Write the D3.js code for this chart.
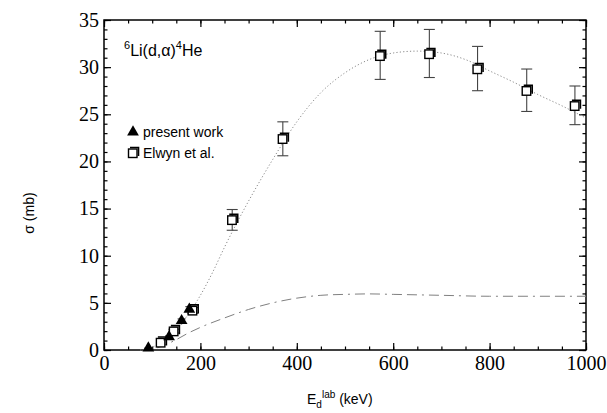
<!DOCTYPE html>
<html>
<head>
<meta charset="utf-8">
<script src="https://cdn.jsdelivr.net/npm/d3@7"></script>
<style>
  body { margin: 0; background: #fff; }
  svg { display: block; }
  .tick text { font-family: "Liberation Serif", "DejaVu Serif", serif; font-size: 20px; fill: #000; }
  .lbl { font-family: "Liberation Sans", Arial, sans-serif; fill: #000; }
</style>
</head>
<body>
<div id="chart"></div>
<script>
// present work (triangles)
var presentE = [92, 135, 161, 177];
var presentS = [0.1, 1.3, 3.0, 4.2];
var presentErr = [0.1, 0.2, 0.3, 0.4];

// Elwyn et al. (open squares) with error bar ends
var elwynE  = [118, 145, 184, 266, 371, 573, 675, 775, 877, 977];
var elwynS  = [0.8, 2.0, 4.2, 13.8, 22.4, 31.2, 31.4, 29.8, 27.5, 25.9];
var elwynLo = [0.7, 1.8, 3.9, 12.7, 20.6, 28.7, 28.9, 27.5, 25.3, 23.9];
var elwynHi = [0.9, 2.2, 4.5, 14.9, 24.2, 33.8, 34.0, 32.2, 29.8, 28.0];

// dotted fit through Elwyn data
var fitE = [75, 100, 125, 150, 175, 200, 225, 250, 300, 350, 400, 450, 500, 550, 600, 650, 700, 750, 800, 850, 900, 950, 1000];
var fitS = [0, 0.3, 1.0, 2.2, 3.8, 5.8, 8.2, 10.9, 15.8, 20.2, 24.2, 27.3, 29.4, 30.8, 31.5, 31.7, 31.5, 30.8, 29.6, 28.4, 27.1, 25.9, 24.6];

// dashed curve
var dashE = [80, 100, 125, 150, 175, 200, 250, 300, 350, 400, 450, 500, 550, 600, 700, 800, 900, 1000];
var dashS = [0, 0.1, 0.5, 1.1, 1.8, 2.4, 3.4, 4.3, 5.0, 5.5, 5.8, 5.9, 5.95, 5.9, 5.8, 5.7, 5.7, 5.7];

var xTicks = [0, 200, 400, 600, 800, 1000];
var yTicks = [0, 5, 10, 15, 20, 25, 30, 35];

var width = 607, height = 413;
var margin = { left: 104, right: 21, top: 20, bottom: 63 };
var iw = width - margin.left - margin.right, ih = height - margin.top - margin.bottom;

var svg = d3.select("#chart").append("svg")
  .attr("width", width)
  .attr("height", height);

var g = svg.append("g").attr("transform", "translate(" + margin.left + "," + margin.top + ")");

var x = d3.scaleLinear().domain([0, 1000]).range([0, iw]);
var y = d3.scaleLinear().domain([0, 35]).range([ih, 0]);

// minor ticks
var minorX = d3.range(0, 1001, 50), minorY = d3.range(0, 36, 1);
g.append("g").attr("transform", "translate(0," + ih + ")")
  .call(d3.axisBottom(x).tickValues(minorX).tickSize(-3.5).tickFormat(""));
g.append("g")
  .call(d3.axisTop(x).tickValues(minorX).tickSize(-3.5).tickFormat(""));
g.append("g")
  .call(d3.axisLeft(y).tickValues(minorY).tickSize(-3.5).tickFormat(""));
g.append("g").attr("transform", "translate(" + iw + ",0)")
  .call(d3.axisRight(y).tickValues(minorY).tickSize(-3.5).tickFormat(""));

// major ticks
g.append("g").attr("transform", "translate(0," + ih + ")")
  .call(d3.axisBottom(x).tickValues(xTicks).tickSize(-7).tickPadding(6).tickFormat(d3.format("d")));
g.append("g")
  .call(d3.axisTop(x).tickValues(xTicks).tickSize(-7).tickFormat(""));
g.append("g")
  .call(d3.axisLeft(y).tickValues(yTicks).tickSize(-7).tickPadding(5).tickFormat(d3.format("d")));
g.append("g").attr("transform", "translate(" + iw + ",0)")
  .call(d3.axisRight(y).tickValues(yTicks).tickSize(-7).tickFormat(""));

g.selectAll(".domain").remove();
g.selectAll(".tick line").attr("stroke", "#000").attr("stroke-width", 1.2);

g.append("rect")
  .attr("width", iw).attr("height", ih)
  .attr("fill", "none").attr("stroke", "#000").attr("stroke-width", 1.5);

// curves
var line = d3.line().curve(d3.curveMonotoneX)
  .x(function(d) { return x(d[0]); })
  .y(function(d) { return y(d[1]); });

g.append("path")
  .datum(d3.zip(fitE, fitS))
  .attr("d", line)
  .attr("fill", "none").attr("stroke", "#8a8a8a").attr("stroke-width", 1)
  .attr("stroke-dasharray", "1.2,2.2");

g.append("path")
  .datum(d3.zip(dashE, dashS))
  .attr("d", line)
  .attr("fill", "none").attr("stroke", "#808080").attr("stroke-width", 1)
  .attr("stroke-dasharray", "10,5,10,5,2,5");

// Elwyn error bars
var ew = d3.range(elwynE.length);
var eb = g.append("g").attr("stroke", "#444").attr("stroke-width", 1.1);
ew.forEach(function(i) {
  var cx = x(elwynE[i]);
  eb.append("line").attr("x1", cx).attr("x2", cx).attr("y1", y(elwynLo[i])).attr("y2", y(elwynHi[i]));
  if (elwynHi[i] - elwynLo[i] > 0.3) {
    eb.append("line").attr("x1", cx - 5.5).attr("x2", cx + 5.5).attr("y1", y(elwynLo[i])).attr("y2", y(elwynLo[i]));
    eb.append("line").attr("x1", cx - 5.5).attr("x2", cx + 5.5).attr("y1", y(elwynHi[i])).attr("y2", y(elwynHi[i]));
  }
});

// present work error bars
var pb = g.append("g").attr("stroke", "#444").attr("stroke-width", 1.1);
presentE.forEach(function(e, i) {
  var cx = x(e);
  pb.append("line").attr("x1", cx).attr("x2", cx).attr("y1", y(presentS[i] - presentErr[i])).attr("y2", y(presentS[i] + presentErr[i]));
  pb.append("line").attr("x1", cx - 4).attr("x2", cx + 4).attr("y1", y(presentS[i] + presentErr[i])).attr("y2", y(presentS[i] + presentErr[i]));
});

// squares with shadow edge
function drawSquare(sel, cx, cy) {
  sel.append("path")
    .attr("d", "M" + (cx - 3) + "," + (cy - 5.5) + "H" + (cx + 5.5) + "V" + (cy + 3))
    .attr("fill", "none").attr("stroke", "#000").attr("stroke-width", 1.6);
  sel.append("rect")
    .attr("x", cx - 4.5).attr("y", cy - 4).attr("width", 8.5).attr("height", 8.5)
    .attr("fill", "#fff").attr("stroke", "#000").attr("stroke-width", 1.4);
}
var sq = g.append("g");
ew.forEach(function(i) { drawSquare(sq, x(elwynE[i]), y(elwynS[i])); });

// triangles
var tri = d3.symbol().type(d3.symbolTriangle).size(60);
g.append("g").selectAll("path")
  .data(d3.zip(presentE, presentS))
  .join("path")
  .attr("d", tri)
  .attr("transform", function(d) { return "translate(" + x(d[0]) + "," + (y(d[1]) - 1) + ")"; })
  .attr("fill", "#000");

// reaction label
var t = svg.append("text").attr("class", "lbl").attr("x", 124).attr("y", 56).attr("font-size", 16);
t.append("tspan").attr("font-size", 11).attr("dy", -7).text("6");
t.append("tspan").attr("dy", 7).text("Li(d,α)");
t.append("tspan").attr("font-size", 11).attr("dy", -7).text("4");
t.append("tspan").attr("dy", 7).text("He");

// legend
svg.append("path")
  .attr("d", tri)
  .attr("transform", "translate(133,132)")
  .attr("fill", "#000");
svg.append("text").attr("class", "lbl").attr("x", 143).attr("y", 137).attr("font-size", 14).text("present work");
drawSquare(svg.append("g"), 133, 153);
svg.append("text").attr("class", "lbl").attr("x", 143).attr("y", 158).attr("font-size", 14).text("Elwyn et al.");

// axis titles
var xt = svg.append("text").attr("class", "lbl").attr("x", 307).attr("y", 404).attr("font-size", 14);
xt.append("tspan").text("E");
xt.append("tspan").attr("font-size", 10).attr("dy", 4).text("d");
xt.append("tspan").attr("font-size", 10).attr("dy", -10).text("lab");
xt.append("tspan").attr("dy", 6).text(" (keV)");

svg.append("text").attr("class", "lbl")
  .attr("transform", "translate(34,213) rotate(-90)")
  .attr("text-anchor", "middle")
  .attr("font-size", 14)
  .text("σ (mb)");
</script>
</body>
</html>
